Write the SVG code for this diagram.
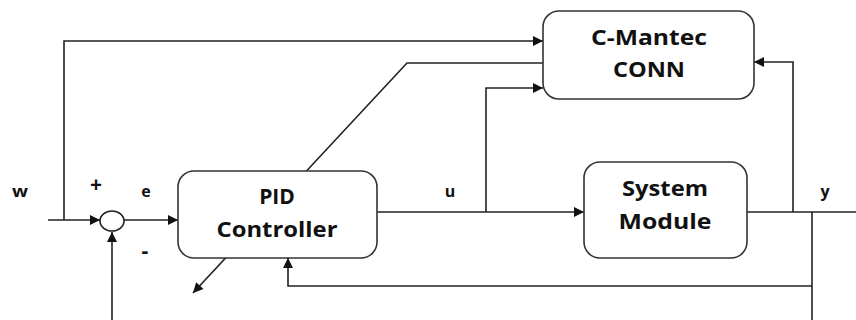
<svg xmlns="http://www.w3.org/2000/svg" width="856" height="320" viewBox="0 0 856 320">
<defs>
<style>
.box{fill:#fff;stroke:#333;stroke-width:1.6}
.ln{fill:none;stroke:#222;stroke-width:1.6}
.t{font-family:"Open Sans","Liberation Sans",sans-serif;font-weight:bold;font-size:21px;fill:#111;text-anchor:middle}
.s{font-family:"Open Sans","Liberation Sans",sans-serif;font-weight:bold;font-size:16px;fill:#111;text-anchor:middle}
.p{font-family:"Open Sans","Liberation Sans",sans-serif;font-weight:bold;font-size:21px;fill:#111;text-anchor:middle}
</style>
<marker id="ah" viewBox="0 0 10 10" refX="10" refY="5" markerWidth="12" markerHeight="10" markerUnits="userSpaceOnUse" orient="auto">
<path d="M0,0 L10,5 L0,10 z" fill="#111"/>
</marker>
</defs>
<g id="connectors">
<path class="ln" d="M48,220 H100" marker-end="url(#ah)"/>
<path class="ln" d="M64,220 V41 H543" marker-end="url(#ah)"/>
<path class="ln" d="M124,220 H178" marker-end="url(#ah)"/>
<path class="ln" d="M112,320 V232" marker-end="url(#ah)"/>
<path class="ln" d="M543,63 H407 L193,293" marker-end="url(#ah)"/>
<path class="ln" d="M377,212 H584" marker-end="url(#ah)"/>
<path class="ln" d="M486,212 V88 H543" marker-end="url(#ah)"/>
<path class="ln" d="M747,212 H856"/>
<path class="ln" d="M793,212 V62 H754" marker-end="url(#ah)"/>
<path class="ln" d="M812,212 V320"/>
<path class="ln" d="M812,286 H288 V258" marker-end="url(#ah)"/>
</g>
<g id="sum">
<ellipse cx="112" cy="221" rx="12" ry="10" fill="#fff" stroke="#222" stroke-width="1.6"/>
<text class="p" x="96" y="192">+</text>
<text class="p" x="145" y="258">-</text>
</g>
<g id="pid">
<rect class="box" x="178" y="171" width="199" height="87" rx="16"/>
<text class="t" x="277" y="204">PID</text>
<text class="t" x="277" y="237" textLength="121" lengthAdjust="spacingAndGlyphs">Controller</text>
</g>
<g id="conn">
<rect class="box" x="543" y="11" width="211" height="88" rx="16"/>
<text class="t" x="649" y="45" textLength="116" lengthAdjust="spacingAndGlyphs">C-Mantec</text>
<text class="t" x="649" y="77" textLength="72" lengthAdjust="spacingAndGlyphs">CONN</text>
</g>
<g id="system">
<rect class="box" x="584" y="162" width="163" height="96" rx="16"/>
<text class="t" x="665" y="196" textLength="86" lengthAdjust="spacingAndGlyphs">System</text>
<text class="t" x="665" y="229" textLength="93" lengthAdjust="spacingAndGlyphs">Module</text>
</g>
<g id="labels">
<text class="s" x="20" y="197" textLength="16" lengthAdjust="spacingAndGlyphs">w</text>
<text class="s" x="146" y="197">e</text>
<text class="s" x="450" y="197">u</text>
<text class="s" x="825" y="197">y</text>
</g>
</svg>
